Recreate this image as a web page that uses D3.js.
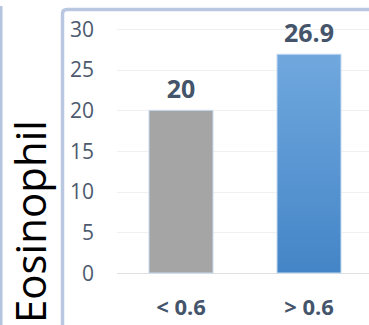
<!DOCTYPE html>
<html>
  <head>
    <meta charset="utf-8">
    <title>Eosinophil</title>
    <script src="https://cdn.jsdelivr.net/npm/d3@7"></script>
    <style>
      body { margin: 0; background: #fff; }
      svg { display: block; }
    </style>
  </head>
  <body>
    <svg id="chart"></svg>
    <script>
// data
var categories = ["< 0.6", "> 0.6"];
var values = [20, 26.9];
var valueLabels = ["20", "26.9"];
var yTicks = [0, 5, 10, 15, 20, 25, 30];
var yTitle = "Eosinophil";

var W = 369, H = 325;

var svg = d3.select("#chart")
    .attr("width", W)
    .attr("height", H);

var defs = svg.append("defs");
var grad = defs.append("linearGradient")
    .attr("id", "blueGrad")
    .attr("x1", 0).attr("y1", 0).attr("x2", 0).attr("y2", 1);
grad.append("stop").attr("offset", "0%").attr("stop-color", "#70a8de");
grad.append("stop").attr("offset", "100%").attr("stop-color", "#4485c7");

var fills = ["#a5a5a5", "url(#blueGrad)"];

// outer decoration: left strip and the framed panel
svg.append("rect")
    .attr("x", 0).attr("y", 6)
    .attr("width", 2.5).attr("height", H)
    .attr("fill", "#b4c3de");

svg.append("path")
    .attr("d", "M62.5," + (H + 5) + " L62.5,14 Q62.5,9.5 67,9.5 L" + (W + 5) + ",9.5")
    .attr("fill", "none")
    .attr("stroke", "#b9c7e1")
    .attr("stroke-width", 3.5);

var x = d3.scaleBand()
    .domain(categories)
    .range([117, 373])
    .paddingInner(0.5)
    .paddingOuter(0.25);

var y = d3.scaleLinear()
    .domain([0, 30])
    .range([273, 29]);

// gridlines
svg.append("g")
  .selectAll("line")
  .data(yTicks)
  .enter().append("line")
    .attr("x1", 117)
    .attr("x2", W)
    .attr("y1", function(d) { return Math.round(y(d)) + 0.5; })
    .attr("y2", function(d) { return Math.round(y(d)) + 0.5; })
    .attr("stroke", function(d) { return d === 0 ? "#e0e0e0" : "#f0f0f0"; })
    .attr("stroke-width", 1);

// y tick labels
svg.append("g")
  .selectAll("text")
  .data(yTicks)
  .enter().append("text")
    .attr("x", 94)
    .attr("y", function(d) { return y(d); })
    .attr("dy", "0.36em")
    .attr("text-anchor", "end")
    .attr("font-family", "Open Sans, sans-serif")
    .attr("font-size", 21)
    .attr("fill", "#4d5a6e")
    .text(function(d) { return d; });

// bars
svg.append("g")
  .selectAll("rect")
  .data(values)
  .enter().append("rect")
    .attr("x", function(d, i) { return x(categories[i]); })
    .attr("y", function(d) { return y(d); })
    .attr("width", x.bandwidth())
    .attr("height", function(d) { return y(0) - y(d); })
    .attr("fill", function(d, i) { return fills[i]; })
    .attr("stroke", "#c5daf0")
    .attr("stroke-width", 1);

// value labels
svg.append("g")
  .selectAll("text")
  .data(values)
  .enter().append("text")
    .attr("x", function(d, i) { return x(categories[i]) + x.bandwidth() / 2; })
    .attr("y", function(d) { return y(d) - 12; })
    .attr("text-anchor", "middle")
    .attr("font-family", "Open Sans, sans-serif")
    .attr("font-weight", "bold")
    .attr("font-size", 25)
    .attr("fill", "#44546a")
    .text(function(d, i) { return valueLabels[i]; });

// category labels
svg.append("g")
  .selectAll("text")
  .data(categories)
  .enter().append("text")
    .attr("x", function(d) { return x(d) + x.bandwidth() / 2; })
    .attr("y", 315)
    .attr("text-anchor", "middle")
    .attr("font-family", "Open Sans, sans-serif")
    .attr("font-weight", "bold")
    .attr("font-size", 22)
    .attr("fill", "#44546a")
    .text(function(d) { return d; });

// y title
svg.append("text")
    .attr("transform", "translate(46,323)rotate(-90)")
    .attr("text-anchor", "start")
    .attr("font-family", "Open Sans, sans-serif")
    .attr("font-size", 42)
    .attr("fill", "#000")
    .text(yTitle);
    </script>
  </body>
</html>
